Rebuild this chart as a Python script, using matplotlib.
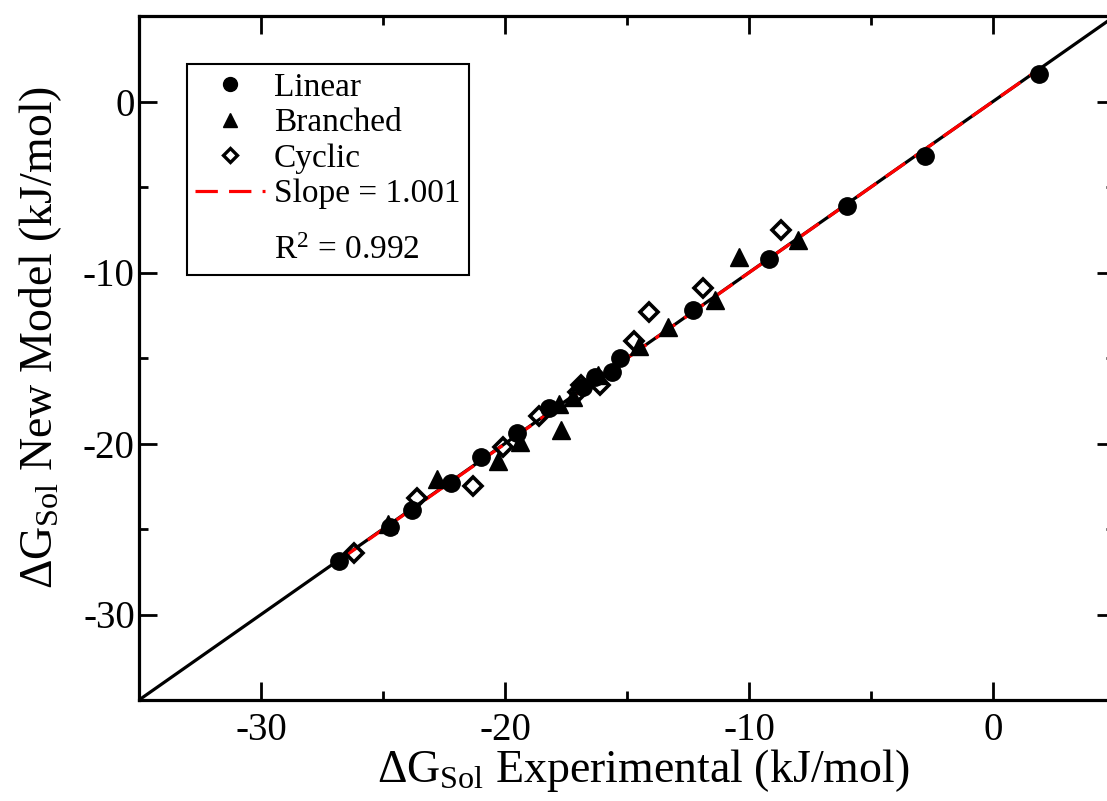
import numpy as np
import matplotlib
matplotlib.use("Agg")
import matplotlib.pyplot as plt
from matplotlib.lines import Line2D

plt.rcParams['font.family'] = ['Liberation Serif', 'DejaVu Serif']
plt.rcParams['mathtext.fontset'] = 'custom'
plt.rcParams['mathtext.rm'] = 'Liberation Serif'
plt.rcParams['mathtext.it'] = 'Liberation Serif:italic'
plt.rcParams['axes.unicode_minus'] = False

# ---- data (kJ/mol) ----
linear_exp = [1.9, -2.8, -6.0, -9.2, -12.3, -15.3, -15.6, -16.8, -18.2, -19.5,
              -21.0, -22.2, -23.8, -24.7, -26.8, -16.3]
linear_new = [1.6, -3.2, -6.1, -9.2, -12.2, -15.0, -15.8, -16.7, -17.9, -19.4,
              -20.8, -22.3, -23.9, -24.9, -26.9, -16.1]

branched_exp = [-8.0, -10.4, -11.4, -13.3, -14.5, -16.2, -17.7, -17.8, -19.4,
                -20.3, -22.8, -24.8, -17.2]
branched_new = [-8.1, -9.1, -11.6, -13.2, -14.3, -16.0, -19.2, -17.7, -19.9,
                -21.0, -22.1, -24.7, -17.3]

cyclic_exp = [-8.7, -11.9, -14.1, -14.7, -16.1, -17.0, -18.6, -20.1, -21.3,
              -23.6, -26.2, -16.9]
cyclic_new = [-7.5, -10.9, -12.3, -14.0, -16.6, -17.0, -18.4, -20.2, -22.5,
              -23.2, -26.4, -16.6]

fit_slope = 1.001
fit_intercept = 0.0
r_squared = 0.992

x_limits = [-35, 5]
y_limits = [-35, 5]
major_ticks = [-30, -20, -10, 0]

# ---- figure ----
W, H = 1107, 801
fig = plt.figure(figsize=(W / 100, H / 100), dpi=100)
left_px, right_px, top_px, bottom_px = 139, 1115, 16, 700
ax = fig.add_axes([left_px / W, 1 - bottom_px / H,
                   (right_px - left_px) / W, (bottom_px - top_px) / H])

ax.set_xlim(x_limits)
ax.set_ylim(y_limits)

# identity line
ax.plot(x_limits, y_limits, color='black', lw=2.3, zorder=2)

# fitted line
all_x = np.array(linear_exp + branched_exp + cyclic_exp)
fx = np.array([all_x.min(), all_x.max()])
fy = fit_slope * fx + fit_intercept
ax.plot(fx, fy, color='red', lw=2.3, dashes=(7.5, 3.5), zorder=3)

ms = 12.5
ax.plot(linear_exp, linear_new, 'o', color='black', ms=ms, zorder=4)
ax.plot(branched_exp, branched_new, '^', color='black', ms=ms, zorder=4)
ax.plot(cyclic_exp, cyclic_new, 'D', mfc='none', mec='black', mew=2.6, ms=9, zorder=4)

# ticks
ax.set_xticks(major_ticks)
ax.set_yticks(major_ticks)
ax.set_xticks(np.arange(-35, 6, 5), minor=True)
ax.set_yticks(np.arange(-35, 6, 5), minor=True)
ax.tick_params(which='both', direction='in', top=True, right=True, width=2.0,
               labelsize=28)
ax.tick_params(which='major', length=13)
ax.tick_params(which='minor', length=6.5)
ax.tick_params(axis='x', pad=9)
ax.tick_params(axis='y', pad=3)
for s in ax.spines.values():
    s.set_linewidth(2.3)

ax.set_xlabel(r'$\Delta$G$_{\mathrm{Sol}}$ Experimental (kJ/mol)', fontsize=33)
ax.set_ylabel(r'$\Delta$G$_{\mathrm{Sol}}$ New Model (kJ/mol)', fontsize=33)
ax.xaxis.set_label_coords((643 - left_px) / (right_px - left_px), -0.068)
ax.yaxis.set_label_coords(-0.077, (bottom_px - 337) / (bottom_px - top_px))

handles = [
    Line2D([], [], marker='o', ls='none', color='black', ms=10),
    Line2D([], [], marker='^', ls='none', color='black', ms=10),
    Line2D([], [], marker='D', ls='none', mfc='none', mec='black', mew=2.4, ms=7),
    Line2D([], [], color='red', lw=2.3, dashes=(7, 3.5)),
    Line2D([], [], ls='none'),
]
labels = ['Linear', 'Branched', 'Cyclic', f'Slope = {fit_slope:.3f}',
          '\n' + r'R$^2$ = ' + f'{r_squared:.3f}']
leg = ax.legend(handles, labels, loc='upper left',
                bbox_to_anchor=((187 - left_px) / (right_px - left_px),
                                (bottom_px - 64) / (bottom_px - top_px)),
                fontsize=24, frameon=True, fancybox=False, framealpha=1,
                edgecolor='black', handlelength=2.1, handletextpad=0.25,
                labelspacing=0.15, borderpad=0.25, borderaxespad=0)
leg.get_frame().set_linewidth(1.5)
leg.legend_handles[4].set_visible(False)
leg.get_texts()[4].set_linespacing(0.62)

fig.savefig('out.png', dpi=100)
